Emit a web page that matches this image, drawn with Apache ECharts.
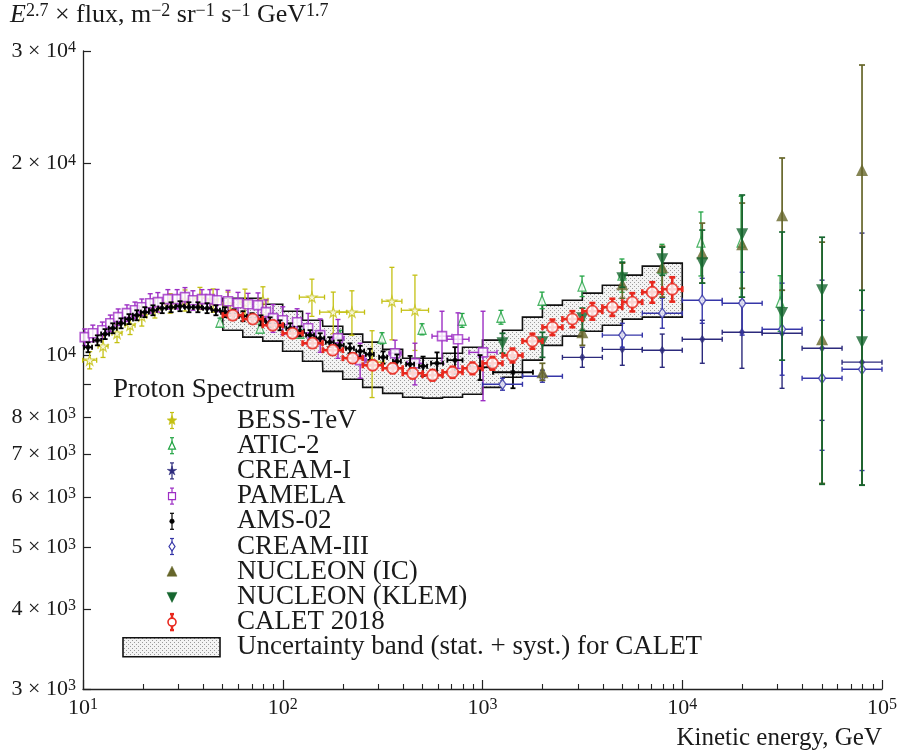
<!DOCTYPE html>
<html><head><meta charset="utf-8"><title>Proton Spectrum</title>
<script src="https://cdn.jsdelivr.net/npm/echarts@6/dist/echarts.min.js"></script>
<style>html,body{margin:0;padding:0;background:#fff;}#chart{width:902px;height:754px;}</style>
</head><body><div id="chart"></div>
<script>
// ================= DATA =================
// Axis ticks
const xTickExponents = [1, 2, 3, 4, 5];
const yTickValues = [3000, 4000, 5000, 6000, 7000, 8000, 9000, 10000, 20000, 30000];
const yLabelValues = [3000, 4000, 5000, 6000, 7000, 8000, 10000, 20000, 30000];

// BESS-TeV
const bessE = [10.8, 12.6, 14.8, 17.2, 19.7, 22.9, 27.3, 32.4, 38.5, 44.8, 53.2, 64.7, 79.6, 140, 179, 222, 280, 352, 459];
const bessF = [9830, 10340, 10830, 11150, 11520, 11860, 12070, 12200, 12290, 12200, 12030, 12120, 12200, 12340, 11690, 11690, 9760, 12160, 11770];
const bessErrPct = [3.1, 4, 3.3, 3.3, 3.5, 3.5, 3.5, 3.8, 4, 4.2, 4.5, 4.8, 5, 6.7, 7.5, 8, 12, 13, 13.5];
const bessBinHalfDex = [0.035, 0.025, 0.025, 0.025, 0.025, 0.025, 0.025, 0.025, 0.025, 0.025, 0.025, 0.025, 0.025, 0.063, 0.068, 0.063, 0.06, 0.05, 0.068];

// ATIC-2
const aticE = [48.5, 77.0, 122, 193, 314, 498, 790, 1237, 1986, 3150, 4990, 7920, 12400, 19700, 30900];
const aticF = [11270, 11030, 10830, 10760, 10640, 10990, 11350, 11480, 12200, 12840, 13360, 13700, 15050, 15050, 12120];
const aticErrPct = [1.5, 1.5, 1.5, 1.7, 2, 2, 2.5, 2.5, 3, 3.7, 6, 9, 11.5, 18, 10];

// CREAM-I
const cream1E = [3160, 5010, 7940, 12600, 19900, 31600, 50100, 79400];
const cream1F = [9930, 10220, 10190, 10600, 10870, 10830, 10260, 9760];
const cream1Lo = [9580, 9650, 9580, 9720, 9545, 8880, 7910, 6260];
const cream1Hi = [10300, 10830, 10800, 11350, 12200, 12650, 13120, 15550];
const cream1Elo = [2512, 3981, 6310, 10000, 15850, 25120, 39810, 63100];
const cream1Ehi = [3981, 6310, 10000, 15850, 25120, 39810, 63100, 100000];

// PAMELA
const pamE = [10.2, 11.2, 12.5, 13.7, 15.0, 16.6, 18.2, 19.7, 21.7, 23.7, 26.6, 29.6, 32.4, 35.5, 39.4, 43.2, 46.9, 53.2, 59.7, 67.0, 75.2, 82.4, 89.4, 100, 118, 134, 154, 189, 244, 365, 459, 627, 754, 1006];
const pamF = [10680, 10830, 10950, 11230, 11480, 11650, 11770, 11900, 12070, 12120, 12250, 12250, 12340, 12200, 12250, 12250, 12200, 12160, 12070, 12030, 11990, 11690, 11440, 11350, 11270, 11030, 10760, 10640, 9830, 10080, 9720, 10720, 10600, 10110];
const pamErrPct = [3, 3, 3, 3, 3, 3, 3, 3, 3.5, 3.5, 3.5, 3.5, 3.5, 3.5, 3.5, 3.5, 4, 4, 4, 4, 4.5, 4.5, 5, 5, 5, 5.5, 6, 7, 6.3, 4.8, 7.5, 9.4, 10, 16];
const pamBinHalfDex = [0, 0, 0, 0, 0, 0, 0, 0, 0, 0, 0, 0, 0, 0, 0, 0, 0, 0, 0, 0, 0, 0, 0, 0, 0, 0, 0, 0.03, 0.03, 0.03, 0.04, 0.05, 0.055, 0.07];

// AMS-02
const amsE = [10.6, 11.8, 12.9, 14.1, 15.5, 17.0, 18.6, 20.4, 22.4, 24.9, 27.6, 30.6, 33.9, 37.6, 41.8, 46.3, 51.4, 57.0, 63.2, 70.2, 77.8, 86.4, 96.9, 109, 122, 137, 154, 172, 193, 217, 244, 273, 318, 373, 434, 504, 592, 728, 972, 1421];
const amsF = [10300, 10560, 10800, 11030, 11230, 11400, 11560, 11690, 11770, 11860, 11900, 11945, 11900, 11900, 11860, 11770, 11690, 11600, 11520, 11440, 11350, 11270, 11150, 11030, 10910, 10760, 10640, 10490, 10370, 10260, 10150, 10040, 9930, 9790, 9690, 9620, 9720, 9830, 9580, 9410];
const amsErrPct = [1.8, 1.8, 1.8, 1.8, 1.8, 1.8, 1.8, 1.8, 1.8, 1.8, 1.8, 1.8, 1.8, 1.8, 1.8, 1.8, 1.8, 1.8, 1.8, 1.8, 1.8, 1.8, 1.8, 1.8, 1.8, 1.8, 1.8, 1.8, 1.8, 1.8, 2, 2, 2.2, 2.5, 3, 3.5, 4, 4.8, 4.5, 5.6];
const amsBinHalfDex = [0.02, 0.02, 0.02, 0.02, 0.02, 0.02, 0.02, 0.02, 0.02, 0.02, 0.02, 0.02, 0.02, 0.02, 0.02, 0.02, 0.02, 0.02, 0.02, 0.02, 0.02, 0.02, 0.02, 0.02, 0.02, 0.02, 0.02, 0.02, 0.02, 0.02, 0.02, 0.02, 0.02, 0.02, 0.02, 0.02, 0.03, 0.038, 0.05, 0.1];

// CREAM-III
const cream3E = [1259, 1995, 5012, 7943, 12590, 19950, 31620, 50120, 79430];
const cream3F = [9010, 9275, 10760, 11645, 12205, 12074, 10990, 9210, 9510];
const cream3Lo = [8820, 9077, 10300, 11030, 11230, 10760, 9310, 7100, 6600];
const cream3Hi = [9210, 9480, 11230, 12290, 13210, 13500, 12980, 11350, 11770];
const cream3Elo = [1000, 1585, 3981, 6310, 10000, 15850, 25120, 39810, 63100];
const cream3Ehi = [1585, 2512, 6310, 10000, 15850, 25120, 39810, 63100, 100000];

// NUCLEON (IC)
const icE = [1995, 3162, 5012, 7943, 12590, 19950, 31620, 50120, 79430];
const icF = [9410, 10870, 12930, 13750, 14460, 14940, 16590, 10600, 19520];
const icLo = [9140, 10370, 12290, 12340, 12980, 12740, 12650, 6300, 6260];
const icHi = [9720, 11350, 13950, 14830, 16120, 17330, 20390, 15050, 28520];

// NUCLEON (KLEM)
const klemE = [1259, 1995, 3162, 5012, 7943, 12590, 19950, 31620, 50120, 79430];
const klemF = [10450, 10490, 11440, 13210, 14150, 13950, 15490, 11650, 12650, 10490];
const klemLo = [10080, 9930, 10950, 12790, 13360, 12980, 12340, 9830, 6280, 6260];
const klemHi = [10830, 10870, 11860, 14000, 14780, 15720, 17840, 15610, 15320, 12650];

// CALET 2018
const caletE = [56.2, 70.8, 89.1, 112, 141, 178, 224, 282, 355, 447, 562, 708, 891, 1122, 1413, 1778, 2239, 2818, 3548, 4467, 5623, 7079, 8913];
const caletF = [11560, 11400, 11150, 10830, 10450, 10190, 9900, 9650, 9545, 9375, 9310, 9410, 9545, 9720, 10000, 10530, 11070, 11400, 11730, 11900, 12120, 12560, 12700];
const caletErrPct = [1.4, 1.4, 1.4, 1.5, 1.5, 1.5, 1.6, 1.6, 1.7, 1.8, 1.9, 2.0, 2.1, 2.3, 2.5, 2.7, 2.8, 2.9, 3.0, 3.1, 3.3, 3.7, 4.4];
const caletBinHalfDex = 0.05;
// CALET uncertainty band (per CALET bin)
const bandUpper = [12290, 12290, 12030, 11730, 11350, 11110, 10800, 10490, 10220, 9900, 9900, 10080, 10300, 10565, 10950, 11480, 11990, 12205, 12520, 12880, 13360, 13800, 13950];
const bandLower = [10950, 10680, 10530, 10150, 9790, 9440, 9175, 8910, 8720, 8600, 8570, 8600, 8690, 8910, 9240, 9830, 10370, 10720, 10910, 11150, 11400, 11480, 11480];

const legendTitle = 'Proton Spectrum';
const legendNames = ['BESS-TeV', 'ATIC-2', 'CREAM-I', 'PAMELA', 'AMS-02', 'CREAM-III', 'NUCLEON (IC)', 'NUCLEON (KLEM)', 'CALET 2018', 'Uncertainty band (stat. + syst.) for CALET'];

// ================= RENDERING =================
const FONT = '"Liberation Serif", "Times New Roman", serif';
const TXT = '#1a1a1a';
const L = Math.log10;
const rel = (F, p, s) => F.map((v, i) => v * (1 + s * p[i] / 100));
const dex = (E, d, s) => E.map((v, i) => v * Math.pow(10, s * (Array.isArray(d) ? d[i] : d)));

function makeDots() {
  const cv = document.createElement('canvas');
  cv.width = 4; cv.height = 4;
  const g = cv.getContext('2d');
  g.fillStyle = '#f4f4f4'; g.fillRect(0, 0, 4, 4);
  g.fillStyle = '#9a9a9a'; g.fillRect(0, 0, 1, 1); g.fillRect(2, 2, 1, 1);
  return cv;
}
const dotPattern = { image: makeDots(), repeat: 'repeat' };

const STAR = 'path://M50,0 L61,35 98,35 68,57 79,91 50,70 21,91 32,57 2,35 39,35 Z';

const sets = [
  { name: 'BESS-TeV', E: bessE, F: bessF, lo: rel(bessF, bessErrPct, -1), hi: rel(bessF, bessErrPct, 1), elo: dex(bessE, bessBinHalfDex, -1), ehi: dex(bessE, bessBinHalfDex, 1),
    color: '#c4c012', lw: 1.3, cap: 2.5, symbol: STAR, size: 10, open: true, bw: 1.2 },
  { name: 'ATIC-2', E: aticE, F: aticF, lo: rel(aticF, aticErrPct, -1), hi: rel(aticF, aticErrPct, 1), elo: aticE, ehi: aticE,
    color: '#22a444', lw: 1.3, cap: 2.5, symbol: 'triangle', size: [8, 10], open: true, bw: 1.3 },
  { name: 'CREAM-I', E: cream1E, F: cream1F, lo: cream1Lo, hi: cream1Hi, elo: cream1Elo, ehi: cream1Ehi,
    color: '#2c2a7c', lw: 1.4, cap: 2.5, symbol: 'diamond', size: [6, 9], open: false },
  { name: 'PAMELA', E: pamE, F: pamF, lo: rel(pamF, pamErrPct, -1), hi: rel(pamF, pamErrPct, 1), elo: dex(pamE, pamBinHalfDex, -1), ehi: dex(pamE, pamBinHalfDex, 1),
    color: '#9d2ec4', lw: 1.4, cap: 2.5, symbol: 'rect', size: 9, open: true, bw: 1.6 },
  { name: 'AMS-02', E: amsE, F: amsF, lo: rel(amsF, amsErrPct, -1), hi: rel(amsF, amsErrPct, 1), elo: dex(amsE, amsBinHalfDex, -1), ehi: dex(amsE, amsBinHalfDex, 1),
    color: '#000000', lw: 1.8, cap: 2.5, symbol: 'circle', size: 5, open: false },
  { name: 'CREAM-III', E: cream3E, F: cream3F, lo: cream3Lo, hi: cream3Hi, elo: cream3Elo, ehi: cream3Ehi,
    color: '#3636a8', lw: 1.4, cap: 2.5, symbol: 'diamond', size: [7, 10], open: true, bw: 1.4 },
  { name: 'NUCLEON (IC)', E: icE, F: icF, lo: icLo, hi: icHi, elo: icE, ehi: icE,
    color: '#66662a', lw: 1.7, cap: 3, symbol: 'triangle', size: [12, 12], open: false },
  { name: 'NUCLEON (KLEM)', E: klemE, F: klemF, lo: klemLo, hi: klemHi, elo: klemE, ehi: klemE,
    color: '#16662f', lw: 1.7, cap: 3, symbol: 'triangle', size: [12, 12], open: false, rotate: 180 },
  { name: 'CALET 2018', E: caletE, F: caletF, lo: rel(caletF, caletErrPct, -1), hi: rel(caletF, caletErrPct, 1), elo: dex(caletE, caletBinHalfDex, -1), ehi: dex(caletE, caletBinHalfDex, 1),
    color: '#e8281e', lw: 2.6, cap: 3, symbol: 'circle', size: 11, open: true, bw: 1.8 }
];

function makeErr(color, lw, cap) {
  return function (params, api) {
    const x = api.value(0), y = api.value(1);
    const c = api.coord([x, y]);
    const yl = api.coord([x, api.value(2)])[1];
    const yh = api.coord([x, api.value(3)])[1];
    const xl = api.coord([api.value(4), y])[0];
    const xh = api.coord([api.value(5), y])[0];
    const ch = [];
    const ln = (x1, y1, x2, y2) => ch.push({ type: 'line', shape: { x1, y1, x2, y2 }, style: { stroke: color, lineWidth: lw } });
    if (Math.abs(yl - yh) > 0.5) {
      ln(c[0], yl, c[0], yh);
      ln(c[0] - cap, yl, c[0] + cap, yl);
      ln(c[0] - cap, yh, c[0] + cap, yh);
    }
    if (xh - xl > 0.5) {
      ln(xl, c[1], xh, c[1]);
      ln(xl, c[1] - cap, xl, c[1] + cap);
      ln(xh, c[1] - cap, xh, c[1] + cap);
    }
    return { type: 'group', children: ch };
  };
}

const series = [];
// Uncertainty band (stepped polygon over CALET bins)
const bandBins = caletE.map((e, i) => [L(e) - caletBinHalfDex, L(e) + caletBinHalfDex, L(bandLower[i]), L(bandUpper[i])]);
series.push({
  type: 'custom', name: 'band', silent: true, z: 1,
  data: [[bandBins[0][0], bandBins[0][2]]],
  renderItem: function (params, api) {
    const pts = [];
    bandBins.forEach(b => { pts.push(api.coord([b[0], b[3]])); pts.push(api.coord([b[1], b[3]])); });
    for (let i = bandBins.length - 1; i >= 0; i--) { const b = bandBins[i]; pts.push(api.coord([b[1], b[2]])); pts.push(api.coord([b[0], b[2]])); }
    return { type: 'polygon', shape: { points: pts }, style: { fill: dotPattern, stroke: '#111', lineWidth: 1.6 } };
  }
});

sets.forEach((s, k) => {
  const errData = s.E.map((e, i) => [L(e), L(s.F[i]), L(s.lo[i]), L(s.hi[i]), L(s.elo[i]), L(s.ehi[i])]);
  series.push({ type: 'custom', name: s.name, silent: true, z: 3 + 2 * k, renderItem: makeErr(s.color, s.lw, s.cap), data: errData });
  series.push({
    type: 'scatter', name: s.name, silent: true, z: 4 + 2 * k,
    symbol: s.symbol, symbolSize: s.size, symbolRotate: s.rotate || 0,
    itemStyle: s.open ? { color: '#ffffff', borderColor: s.color, borderWidth: s.bw } : { color: s.color },
    data: s.E.map((e, i) => [L(e), L(s.F[i])])
  });
});

// ---- axes ----
const xMinor = [];
for (let d = 1; d <= 4; d++) for (let m = 2; m <= 9; m++) xMinor.push(d + L(m));
const supRich = {
  b: { fontFamily: FONT, fontSize: 22, lineHeight: 22, color: TXT },
  s: { fontFamily: FONT, fontSize: 16, lineHeight: 8, verticalAlign: 'top', color: TXT }
};
const axisLineStyle = { color: '#222', width: 1.3 };

const option = {
  animation: false,
  backgroundColor: '#ffffff',
  grid: { left: 83, right: 20, top: 51, bottom: 65, containLabel: false },
  xAxis: [
    {
      type: 'value', min: 1, max: 5, position: 'bottom',
      axisLine: { show: true, lineStyle: axisLineStyle },
      axisTick: { show: true, inside: true, length: 9, customValues: xTickExponents, lineStyle: { color: '#222', width: 1.2 } },
      axisLabel: {
        show: true, customValues: xTickExponents, margin: 8,
        formatter: v => '{b|10}{s|' + Math.round(v) + '}', rich: supRich
      },
      splitLine: { show: false }
    },
    {
      type: 'value', min: 1, max: 5, position: 'bottom', offset: 0,
      axisLine: { show: false },
      axisTick: { show: true, inside: true, length: 5, customValues: xMinor, lineStyle: { color: '#222', width: 1.1 } },
      axisLabel: { show: false },
      splitLine: { show: false }
    }
  ],
  yAxis: [{
    type: 'value', min: L(3000), max: L(30000),
    axisLine: { show: true, lineStyle: axisLineStyle },
    axisTick: { show: true, inside: true, length: 8, customValues: yTickValues.map(L), lineStyle: { color: '#222', width: 1.2 } },
    axisLabel: {
      show: true, customValues: yLabelValues.map(L), margin: 7,
      formatter: function (v) {
        const ex = Math.floor(v + 1e-9);
        const m = Math.round(Math.pow(10, v - ex));
        return (m === 1 ? '{b|10}' : '{b|' + m + ' × 10}') + '{s|' + ex + '}';
      },
      rich: supRich
    },
    splitLine: { show: false }
  }],
  series: series,
  graphic: []
};

// ---- titles ----
const g = option.graphic;
g.push({
  type: 'text', x: 10, y: 2, z: 50,
  style: {
    text: '{i|E}{s|2.7}{n| × flux, m}{s|−2}{n| sr}{s|−1}{n| s}{s|−1}{n| GeV}{s|1.7}',
    rich: {
      i: { fontFamily: FONT, fontStyle: 'italic', fontSize: 26, lineHeight: 27, fill: TXT },
      n: { fontFamily: FONT, fontSize: 26, lineHeight: 27, fill: TXT },
      s: { fontFamily: FONT, fontSize: 18, lineHeight: 8, verticalAlign: 'top', fill: TXT }
    }
  }
});
g.push({ type: 'text', x: 882, y: 738, z: 50, style: { text: 'Kinetic energy, GeV', font: '25px ' + FONT, fill: TXT, align: 'right', verticalAlign: 'middle' } });

// ---- legend (drawn) ----
const LX = 172, TX = 237, LY0 = 420.5, LDY = 25.2;
g.push({ type: 'text', x: 113, y: 390, z: 50, style: { text: legendTitle, font: '27px ' + FONT, fill: TXT, align: 'left', verticalAlign: 'middle' } });
function starPts(cx, cy, r1, r2) {
  const p = [];
  for (let i = 0; i < 10; i++) { const a = -Math.PI / 2 + i * Math.PI / 5; const r = i % 2 ? r2 : r1; p.push([cx + r * Math.cos(a), cy + r * Math.sin(a)]); }
  return p;
}
function legendMarker(k, cy) {
  const s = sets[k];
  const cx = LX;
  const st = { stroke: s.color, lineWidth: k === 8 ? 2.4 : 1.2 };
  const barH = (k === 6 || k === 7) ? 0 : 8;
  if (barH) {
    g.push({ type: 'line', z: 50, shape: { x1: cx, y1: cy - barH, x2: cx, y2: cy + barH }, style: st });
    g.push({ type: 'line', z: 50, shape: { x1: cx - 2, y1: cy - barH, x2: cx + 2, y2: cy - barH }, style: st });
    g.push({ type: 'line', z: 50, shape: { x1: cx - 2, y1: cy + barH, x2: cx + 2, y2: cy + barH }, style: st });
  }
  const fillOpen = { fill: '#fff', stroke: s.color, lineWidth: 1.2 };
  const fillSolid = { fill: s.color, stroke: s.color, lineWidth: 0.5 };
  let el;
  switch (k) {
    case 0: el = { type: 'polygon', shape: { points: starPts(cx, cy, 5, 2.2) }, style: { fill: s.color, stroke: s.color, lineWidth: 0.6 } }; break;
    case 1: el = { type: 'polygon', shape: { points: [[cx - 3.5, cy + 3.5], [cx + 3.5, cy + 3.5], [cx, cy - 4]] }, style: fillOpen }; break;
    case 2: el = { type: 'polygon', shape: { points: starPts(cx, cy, 5, 1.8) }, style: fillSolid }; break;
    case 3: el = { type: 'rect', shape: { x: cx - 3.5, y: cy - 3.5, width: 7, height: 7 }, style: fillOpen }; break;
    case 4: el = { type: 'circle', shape: { cx: cx, cy: cy, r: 2.3 }, style: fillSolid }; break;
    case 5: el = { type: 'polygon', shape: { points: [[cx, cy - 4.5], [cx + 3, cy], [cx, cy + 4.5], [cx - 3, cy]] }, style: fillOpen }; break;
    case 6: el = { type: 'polygon', shape: { points: [[cx - 5, cy + 4.5], [cx + 5, cy + 4.5], [cx, cy - 5.5]] }, style: fillSolid }; break;
    case 7: el = { type: 'polygon', shape: { points: [[cx - 5, cy - 4.5], [cx + 5, cy - 4.5], [cx, cy + 5.5]] }, style: fillSolid }; break;
    case 8: el = { type: 'circle', shape: { cx: cx, cy: cy, r: 4 }, style: { fill: '#fff', stroke: s.color, lineWidth: 1.6 } }; break;
  }
  el.z = 51;
  g.push(el);
}
legendNames.forEach((nm, k) => {
  const cy = LY0 + k * LDY;
  if (k < 9) legendMarker(k, cy);
  else g.push({ type: 'rect', z: 50, shape: { x: 123, y: cy - 9.5, width: 97, height: 19 }, style: { fill: dotPattern, stroke: '#111', lineWidth: 1.6 } });
  g.push({ type: 'text', x: TX, y: cy, z: 50, style: { text: nm, font: '27px ' + FONT, fill: TXT, align: 'left', verticalAlign: 'middle' } });
});

const chart = echarts.init(document.getElementById('chart'), null, { renderer: 'canvas' });
chart.setOption(option);
</script></body></html>
